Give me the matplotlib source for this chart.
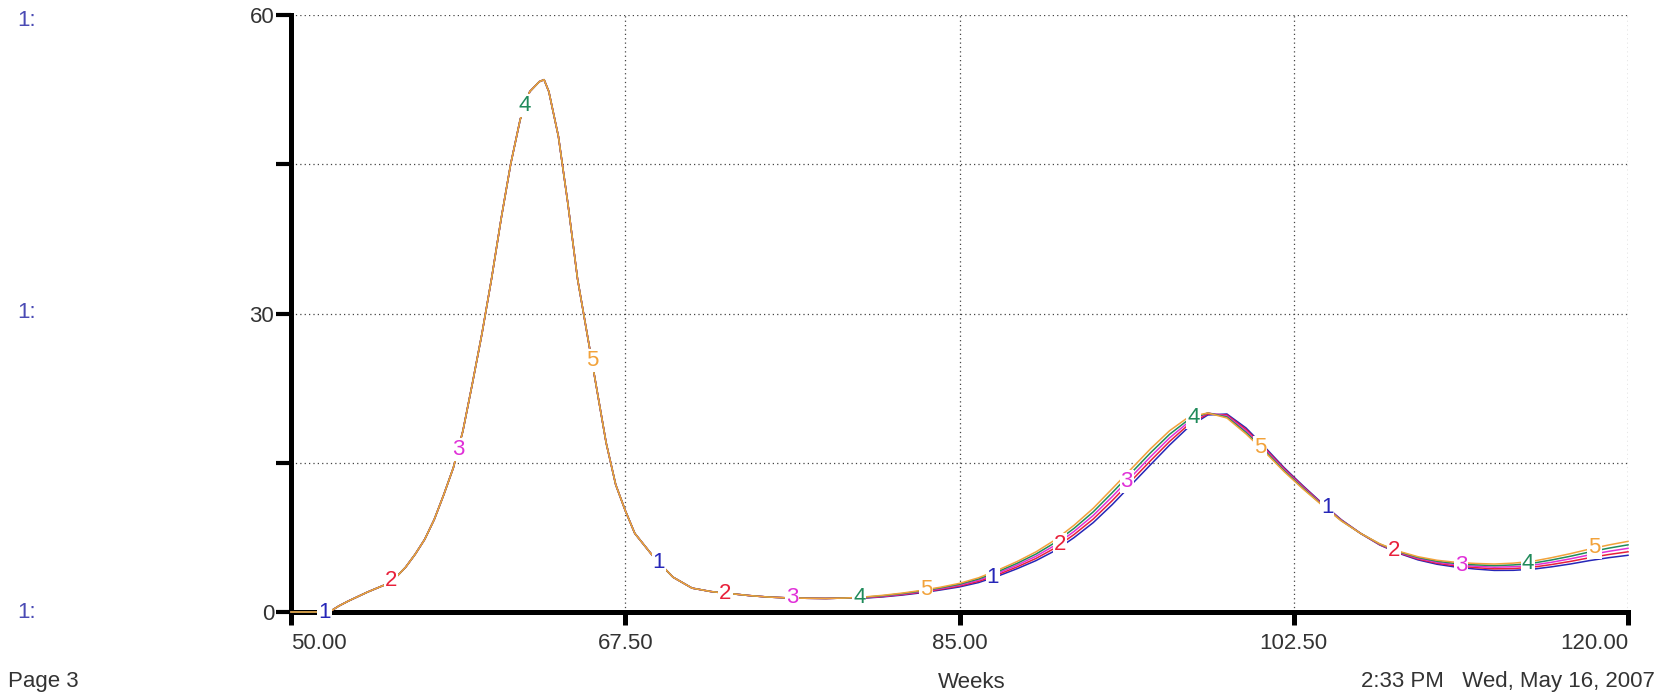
import numpy as np
import matplotlib
matplotlib.use("Agg")
import matplotlib.pyplot as plt

plt.rcParams['font.family'] = ['Liberation Sans', 'DejaVu Sans']

# ---- data -------------------------------------------------------------
# first wave: all five runs coincide
weeks_a = [50, 51, 51.5, 52, 52.5, 53, 54, 55, 55.5, 56, 56.5, 57, 57.5, 58,
           58.5, 59, 59.5, 60, 60.5, 61, 61.5, 62, 62.5, 63, 63.25, 63.5, 64,
           64.5, 65, 65.5, 66, 66.5, 67, 67.5, 68, 69, 70, 71, 72, 73, 74, 75,
           76, 77, 78, 79]
wave_a = [0, 0, 0, 0.0, 0.6, 1.1, 2.0, 2.8, 3.5, 4.5, 5.8, 7.3, 9.3, 11.8,
          14.5, 18.2, 23.0, 28.0, 33.5, 39.5, 45.0, 49.5, 52.3, 53.3, 53.5,
          52.3, 47.8, 41.0, 33.5, 28.0, 22.5, 17.0, 12.8, 10.2, 7.9, 5.5, 3.5,
          2.4, 2.05, 1.85, 1.65, 1.5, 1.42, 1.38, 1.36, 1.4]

# second wave: runs separate slightly
weeks_b = list(range(80, 121))
run1_b = [1.39, 1.52, 1.70, 1.93, 2.21, 2.52, 2.96, 3.60, 4.34, 5.16, 6.16,
          7.48, 8.98, 10.80, 12.80, 14.80, 16.78, 18.60, 19.80, 19.90, 18.50,
          16.54, 14.50, 12.66, 10.90, 9.26, 7.90, 6.74, 5.90, 5.24, 4.80,
          4.51, 4.32, 4.18, 4.19, 4.30, 4.54, 4.83, 5.17, 5.46, 5.70]
run2_b = [1.42, 1.56, 1.75, 1.99, 2.28, 2.61, 3.08, 3.75, 4.52, 5.38, 6.43,
          7.79, 9.34, 11.20, 13.20, 15.20, 17.14, 18.85, 19.90, 19.80, 18.35,
          16.42, 14.40, 12.58, 10.85, 9.23, 7.90, 6.77, 5.95, 5.32, 4.90,
          4.63, 4.46, 4.34, 4.37, 4.50, 4.77, 5.09, 5.46, 5.78, 6.05]
run3_b = [1.45, 1.60, 1.80, 2.05, 2.35, 2.70, 3.20, 3.90, 4.70, 5.60, 6.70,
          8.10, 9.70, 11.60, 13.60, 15.60, 17.50, 19.10, 20.00, 19.70, 18.20,
          16.30, 14.30, 12.50, 10.80, 9.20, 7.90, 6.80, 6.00, 5.40, 5.00,
          4.75, 4.60, 4.50, 4.55, 4.70, 5.00, 5.35, 5.75, 6.10, 6.40]
run4_b = [1.48, 1.64, 1.85, 2.11, 2.42, 2.79, 3.32, 4.05, 4.88, 5.82, 6.97,
          8.41, 10.06, 12.00, 14.00, 16.00, 17.86, 19.35, 20.00, 19.60, 18.05,
          16.18, 14.20, 12.42, 10.75, 9.17, 7.90, 6.83, 6.05, 5.48, 5.10,
          4.87, 4.74, 4.66, 4.73, 4.90, 5.23, 5.61, 6.04, 6.42, 6.75]
run5_b = [1.51, 1.68, 1.90, 2.17, 2.49, 2.88, 3.44, 4.20, 5.06, 6.04, 7.24,
          8.72, 10.42, 12.40, 14.40, 16.40, 18.22, 19.60, 20.00, 19.50, 17.90,
          16.06, 14.10, 12.34, 10.70, 9.14, 7.90, 6.86, 6.10, 5.56, 5.20,
          4.99, 4.88, 4.82, 4.91, 5.10, 5.46, 5.87, 6.33, 6.74, 7.10]

run_names = ['1', '2', '3', '4', '5']
run_colors = ['#2626b8', '#e8203a', '#e030d8', '#1f8a5a', '#f2a23a']
x_ticks = [50, 67.5, 85, 102.5, 120]
x_ticklabels = ['50.00', '67.50', '85.00', '102.50', '120.00']
y_ticks = [0, 15, 30, 45, 60]
y_ticklabels = ['0', '', '30', '', '60']
label_weeks = [51.75 + 3.5 * i for i in range(20)]

# ---- figure -------------------------------------------------------------
W, H = 1669, 696
fig = plt.figure(figsize=(W / 100, H / 100), dpi=100)
L, R, T, B = 291, 1628, 15, 612
ax = fig.add_axes([L / W, 1 - B / H, (R - L) / W, (B - T) / H])

ax.set_xlim(50, 120)
ax.set_ylim(0, 60)

weeks = np.array(weeks_a + weeks_b, dtype=float)
runs = [np.array(wave_a + r, dtype=float) for r in (run1_b, run2_b, run3_b, run4_b, run5_b)]

for vals, col in zip(runs, run_colors):
    ax.plot(weeks, vals, color=col, lw=1.1, zorder=3, clip_on=False)

# run-number labels along the curves
for i, xw in enumerate(label_weeks):
    k = i % 5
    yv = np.interp(xw, weeks, runs[k])
    ax.text(xw, yv, run_names[k], color=run_colors[k], fontsize=16,
            ha='center', va='center', zorder=5,
            bbox=dict(facecolor='white', edgecolor='none', pad=0.6))

# grid
for xv in x_ticks[1:]:
    ax.axvline(xv, color='#444444', lw=0.9, ls=(0, (1, 2.5)), zorder=1)
for yv in y_ticks[1:]:
    ax.axhline(yv, color='#444444', lw=0.9, ls=(0, (1, 2.5)), zorder=1)

for s in ['top', 'right']:
    ax.spines[s].set_visible(False)
for s in ['left', 'bottom']:
    ax.spines[s].set_linewidth(3.6)
    ax.spines[s].set_color('black')

ax.set_xticks(x_ticks)
ax.set_xticklabels(x_ticklabels)
ax.set_yticks(y_ticks)
ax.set_yticklabels(y_ticklabels)
ax.tick_params(axis='x', direction='out', length=9, width=3.6, color='black',
               labelsize=16, labelcolor='#333333', pad=6)
ax.tick_params(axis='y', direction='out', length=11, width=3.0, color='black',
               labelsize=16, labelcolor='#333333', pad=1)
xl = ax.get_xticklabels()
xl[0].set_ha('left')
xl[-1].set_ha('right')

# page furniture
for yy in (20, 313, 612):
    fig.text(17 / W, 1 - yy / H, '1:', color='#4a4ab4', fontsize=16,
             ha='left', va='center')
fig.text(8 / W, 1 - 682 / H, 'Page 3', color='#333333', fontsize=16,
         ha='left', va='center')
fig.text(972 / W, 1 - 682 / H, 'Weeks', color='#333333', fontsize=16,
         ha='center', va='center')
fig.text(1655 / W, 1 - 682 / H, '2:33 PM   Wed, May 16, 2007', color='#333333',
         fontsize=16, ha='right', va='center')

fig.savefig('out.png', dpi=100)
